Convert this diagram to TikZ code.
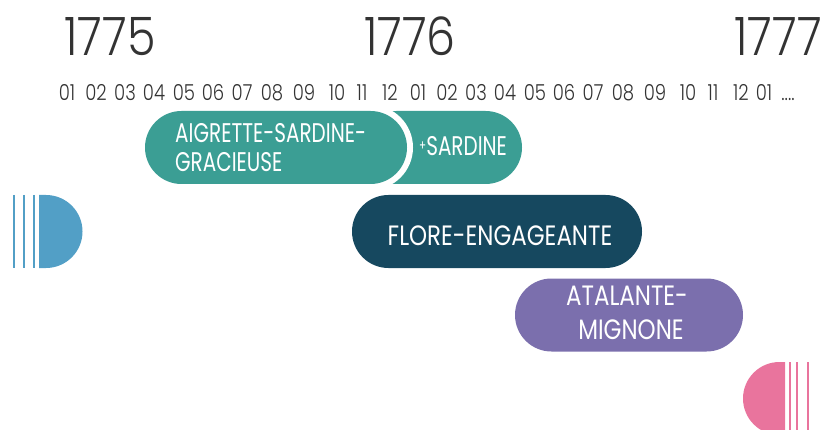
\documentclass[tikz,border=0pt]{standalone}
\usepackage{fontspec}
\setmainfont{Poppins}
\newfontfamily\yearfont{Poppins Light}[FakeStretch=0.87]
\newfontfamily\monfont{Poppins Light}[FakeStretch=0.82]
\newfontfamily\labelfont{Poppins}[FakeStretch=0.82]
\newfontfamily\labelfontn{Poppins}[FakeStretch=0.74]
\definecolor{teal1}{HTML}{3B9E94}
\definecolor{navy1}{HTML}{16485F}
\definecolor{purple1}{HTML}{7B6FAD}
\definecolor{blue1}{HTML}{529FC6}
\definecolor{pink1}{HTML}{E9749D}
\definecolor{ink}{HTML}{333333}
\begin{document}
\begin{tikzpicture}[x=1pt,y=-1pt,
  bar/.style={rectangle, rounded corners=36.5pt, minimum height=73pt, inner sep=0pt, draw=none},
  yr/.style={anchor=base, inner sep=0pt, text=ink, font=\yearfont\fontsize{53}{53}\selectfont},
  mon/.style={anchor=base, inner sep=0pt, text=ink, font=\monfont\fontsize{22}{22}\selectfont},
  lbl/.style={inner sep=0pt, text=white, font=\labelfont\fontsize{28}{28}\selectfont},
  lblsmall/.style={inner sep=0pt, text=white, font=\labelfontn\fontsize{27}{27}\selectfont},
  tick/.style={line width=1.8pt}]
\useasboundingbox (0,0) rectangle (829,430);
% years
\node[yr] (y1775) at (110,56) {1775};
\node[yr] (y1776) at (410,56) {1776};
\node[yr] (y1777) at (778,56) {1777};
% months
\foreach \x/\t [count=\i] in {67/01,96/02,125/03,154/04,184/05,213/06,242/07,272/08,304/09,337/10,362/11,390/12,
  418/01,447/02,476/03,505/04,535/05,564/06,593/07,623/08,655/09,688/10,713/11,741/12,764/01}
  \node[mon] (m\i) at (\x,101) {\t};
\node[mon] (mdots) at (788,101) {....};
% bars
\node[bar, fill=teal1, minimum width=162pt] (sard) at (441,147.5) {};
\node[bar, fill=white, rounded corners=42.5pt, minimum width=274pt, minimum height=85pt] (gap) at (276,147.5) {};
\node[bar, fill=teal1, minimum width=262pt] (aig) at (276,147.5) {};
\node[bar, fill=navy1, minimum width=290pt] (flore) at (497,231.5) {};
\node[bar, fill=purple1, minimum width=228pt] (atal) at (629,315) {};
% labels
\node[lblsmall, anchor=base west] (aigA) at (175,143) {AIGRETTE-SARDINE-};
\node[lblsmall, anchor=base west] (aigB) at (175,172) {GRACIEUSE};
\node[lblsmall, anchor=base west] (sardT) at (419,156) {\raisebox{5pt}{\fontsize{14}{14}\selectfont+}SARDINE};
\node[lbl, anchor=base] (floreT) at (500,246) {FLORE-ENGAGEANTE};
\node[lbl, anchor=base] (atalA) at (627,305) {ATALANTE-};
\node[lbl, anchor=base] (atalB) at (631,339) {MIGNONE};
% left end marker
\fill[blue1] (39,195) -- (46,195) arc[start angle=-90, end angle=90, radius=36.5] -- (39,268) -- cycle;
\foreach \x in {14,24,34} \draw[tick, blue1] (\x,195) -- (\x,268);
% right end marker
\fill[pink1] (785,362) -- (779.5,362) arc[start angle=-90, end angle=-270, radius=36.5] -- (785,435) -- cycle;
\foreach \x in {790,797,808} \draw[tick, pink1] (\x,362) -- (\x,440);
\end{tikzpicture}
\end{document}
